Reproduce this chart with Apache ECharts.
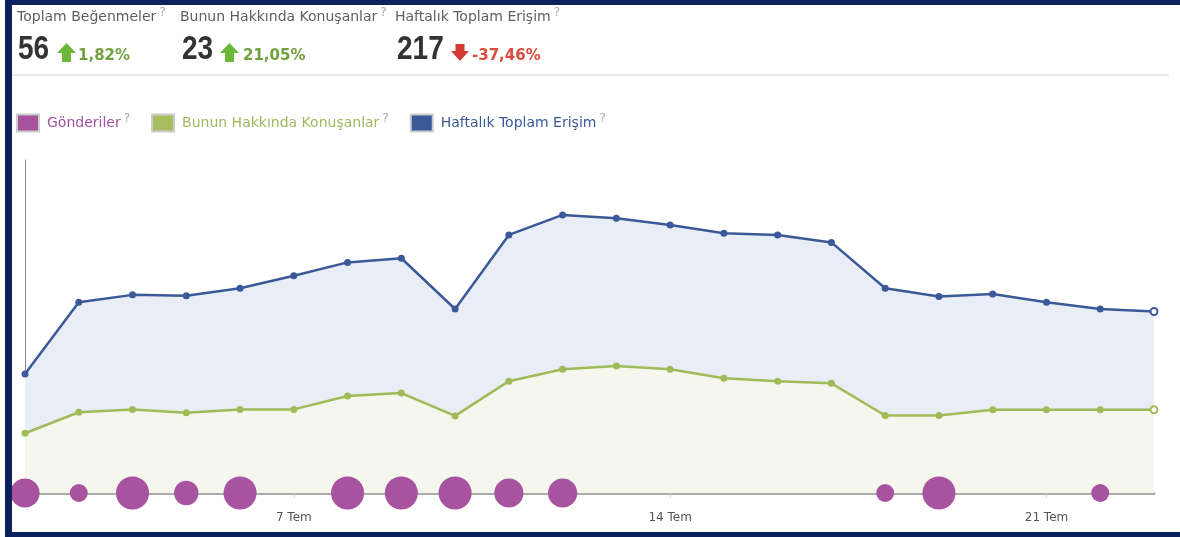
<!DOCTYPE html>
<html>
<head>
<meta charset="utf-8">
<script src="https://cdn.jsdelivr.net/npm/echarts@6/dist/echarts.min.js"></script>
<style>
html,body{margin:0;padding:0;background:#fff;}
#chart{width:1180px;height:537px;}
</style>
</head>
<body>
<div id="chart"></div>
<script>
// ---- data ----
const categories = ['2 Tem','3 Tem','4 Tem','5 Tem','6 Tem','7 Tem','8 Tem','9 Tem','10 Tem','11 Tem','12 Tem','13 Tem','14 Tem','15 Tem','16 Tem','17 Tem','18 Tem','19 Tem','20 Tem','21 Tem','22 Tem','23 Tem'];
const reachValues = [143,229,238,237,246,261,277,282,221,310,334,330,322,312,310,301,246,236,239,229,221,218];
const talkingValues = [16.5,22.3,23.1,22.2,23.1,23.1,26.8,27.6,21.3,30.9,34.2,35.1,34.2,31.7,30.9,30.3,21.4,21.4,23,23,23,23];
const postCounts = [3,1,4,2,4,0,4,4,4,3,3,0,0,0,0,0,1,4,0,0,1,0];
const tickLabels = ['7 Tem','14 Tem','21 Tem'];
const seriesNames = ['Gönderiler','Bunun Hakkında Konuşanlar','Haftalık Toplam Erişim'];
const headerLabels = ['Toplam Beğenmeler','Bunun Hakkında Konuşanlar','Haftalık Toplam Erişim'];
const headerTotals = [56,23,217];
const headerChanges = [1.82,21.05,-37.46];

// ---- styles / layout ----
const C_BLUE = '#3b5998', C_GREEN = '#9fbb58', C_PURPLE = '#a8539f';
const NAVY = '#0b225e';
const FONT = "'DejaVu Sans', Verdana, sans-serif";
const headX = {label:[17,180,395], num:[18,182,397], arrow:[57,220,451], pct:[78,243,472]};

const graphics = [];
// frame
graphics.push({type:'rect', shape:{x:5,y:0,width:1175,height:5}, style:{fill:NAVY}, z:100});
graphics.push({type:'rect', shape:{x:5,y:0,width:7,height:537}, style:{fill:NAVY}, z:100});
graphics.push({type:'rect', shape:{x:5,y:532,width:1175,height:5}, style:{fill:NAVY}, z:100});
// separator
graphics.push({type:'rect', shape:{x:12,y:74,width:1157,height:2}, style:{fill:'#e8e8e8'}});

headerLabels.forEach((lab,i)=>{
  graphics.push({type:'text', x:headX.label[i], y:17, style:{
    text:'{a|'+lab+'}{q|?}', textVerticalAlign:'middle',
    rich:{a:{fontFamily:FONT,fontSize:14,fill:'#5f5f5f',lineHeight:20},
          q:{fontFamily:FONT,fontSize:12,fill:'#a8a8a8',verticalAlign:'top',padding:[0,0,0,3]}}
  }});
  graphics.push({type:'text', x:headX.num[i], y:50, scaleX:0.85, style:{
    text:String(headerTotals[i]), textVerticalAlign:'middle',
    font:"bold 33px 'Liberation Sans', Arial", fill:'#333333'
  }});
  const up = headerChanges[i] >= 0;
  const ax = headX.arrow[i];
  const pts = up
    ? [[ax,53],[ax+9.5,43],[ax+19,53],[ax+14,53],[ax+14,62],[ax+5,62],[ax+5,53]]
    : [[ax+4.5,44],[ax+13.5,44],[ax+13.5,51],[ax+18,51],[ax+9,61],[ax,51],[ax+4.5,51]];
  graphics.push({type:'polygon', shape:{points:pts}, style:{fill: up ? '#6cb83a' : '#d23b30'}});
  graphics.push({type:'text', x:headX.pct[i], y:56, style:{
    text: headerChanges[i].toFixed(2).replace('.',',') + '%', textVerticalAlign:'middle',
    font:"bold 15px 'DejaVu Sans', Verdana", fill: up ? '#72a03e' : '#dc4b3c'
  }});
});

const legendColors = [C_PURPLE, '#a8bd60', C_BLUE];
const legendTextColors = ['#a452a0', '#a2b85e', '#3b5998'];
const richKeys = ['p','g','b'];

function lastHollow(values, color){
  return values.map((v,i)=> i===values.length-1
    ? {value:v, itemStyle:{color:'#fff', borderColor:color, borderWidth:2}} : v);
}

const option = {
  animation:false,
  backgroundColor:'#fff',
  graphic: graphics,
  legend:{
    left:16, top:113, padding:0, icon:'rect', itemWidth:22, itemHeight:17, itemGap:21,
    itemStyle:{borderColor:'#cccccc', borderWidth:2},
    data: seriesNames.map((n,i)=>({name:n, itemStyle:{color:legendColors[i]}})),
    formatter: name => { const k = richKeys[seriesNames.indexOf(name)]; return '{'+k+'|'+name+'}{q|?}'; },
    textStyle:{
      fontFamily:FONT, fontSize:14, padding:[0,0,0,3],
      rich:{
        p:{color:legendTextColors[0], fontFamily:FONT, fontSize:14, lineHeight:20},
        g:{color:legendTextColors[1], fontFamily:FONT, fontSize:14, lineHeight:20},
        b:{color:legendTextColors[2], fontFamily:FONT, fontSize:14, lineHeight:20},
        q:{color:'#a8a8a8', fontFamily:FONT, fontSize:12, verticalAlign:'top', padding:[0,0,0,3]}
      }
    },
    selectedMode:false
  },
  grid:{left:25, right:26, top:160, bottom:44, containLabel:false},
  xAxis:{
    type:'category', data:categories, boundaryGap:false,
    axisLine:{show:true, lineStyle:{color:'#ababab', width:3}},
    axisTick:{show:true, length:5, interval:(i,v)=>tickLabels.includes(v), lineStyle:{color:'#cfcfcf'}},
    axisLabel:{interval:(i,v)=>tickLabels.includes(v), color:'#555', fontFamily:FONT, fontSize:12, margin:19},
    splitLine:{show:false}
  },
  yAxis:[
    {type:'value', min:0, max:400, axisLine:{show:true, lineStyle:{color:'#8a8a8a', width:1}},
     axisTick:{show:false}, axisLabel:{show:false}, splitLine:{show:false}},
    {type:'value', min:0, max:92, show:false, splitLine:{show:false}}
  ],
  series:[
    {name:seriesNames[2], type:'line', yAxisIndex:0, data:lastHollow(reachValues, C_BLUE),
     symbol:'circle', symbolSize:7, lineStyle:{color:C_BLUE, width:2.5}, itemStyle:{color:C_BLUE},
     areaStyle:{color:'#e9edf6', opacity:1}, z:2},
    {name:seriesNames[1], type:'line', yAxisIndex:1, data:lastHollow(talkingValues, C_GREEN),
     symbol:'circle', symbolSize:7, lineStyle:{color:C_GREEN, width:2.5}, itemStyle:{color:C_GREEN},
     areaStyle:{color:'#f5f7ef', opacity:1}, z:3},
    {name:seriesNames[0], type:'scatter', yAxisIndex:0, clip:false,
     data: postCounts.map((c,i)=>[i,0,c]).filter(d=>d[2]>0),
     symbolSize: v => 18*Math.pow(v[2],0.44),
     itemStyle:{color:C_PURPLE, opacity:1}, z:5}
  ]
};

const chart = echarts.init(document.getElementById('chart'), null, {renderer:'canvas'});
chart.setOption(option);
</script>
</body>
</html>
